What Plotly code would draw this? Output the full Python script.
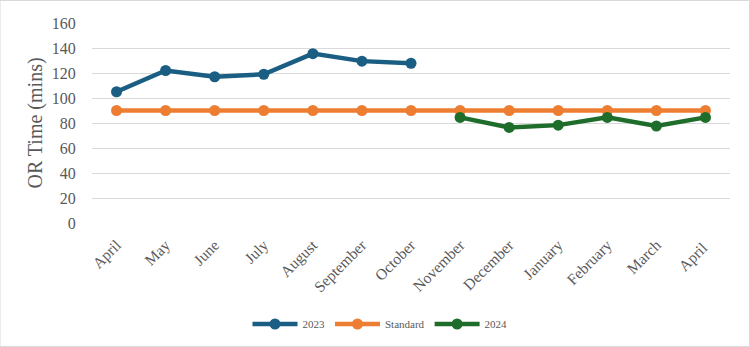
import plotly.graph_objects as go

months = ["April", "May", "June", "July", "August", "September", "October",
          "November", "December", "January", "February", "March", "April "]
y2023 = [105, 122, 117, 119, 135.5, 129.5, 127.8, None, None, None, None, None, None]
standard = [90, 90, 90, 90, 90, 90, 90, 90, 90, 90, 90, 90, 90]
y2024 = [None, None, None, None, None, None, None, 84.5, 76.5, 78.3, 84.5, 77.6, 84.5]
yticks = [0, 20, 40, 60, 80, 100, 120, 140, 160]

c2023 = "#1b5e83"
cstd = "#ed7d31"
c2024 = "#1e6d2b"

fig = go.Figure()
for name, vals, col in [("2023", y2023, c2023), ("Standard", standard, cstd), ("2024", y2024, c2024)]:
    fig.add_trace(go.Scatter(x=months, y=vals, name=name, mode="lines+markers",
                             line=dict(color=col, width=4.5),
                             marker=dict(color=col, size=11),
                             connectgaps=False))

font = "Liberation Serif, Times New Roman, serif"
fig.update_layout(
    width=750, height=347,
    margin=dict(l=92, r=20, t=23, b=124, autoexpand=False),
    paper_bgcolor="white", plot_bgcolor="white",
    font=dict(family=font, color="#595959"),
    showlegend=True,
    legend=dict(orientation="h", x=(380 - 92) / 638, xanchor="center",
                y=-0.505, yanchor="middle", font=dict(size=11, color="#595959"),
                itemwidth=45, tracegroupgap=0),
    xaxis=dict(type="category", range=[-0.5, 12.5], tickangle=-45, automargin=False,
               tickfont=dict(size=15.5, family=font, color="#595959"),
               showgrid=False, showline=False, zeroline=False,
               ticks="outside", ticklen=6, tickcolor="rgba(0,0,0,0)"),
    yaxis=dict(range=[0, 160], tickvals=yticks, showgrid=True, gridcolor="#d9d9d9",
               gridwidth=1.3, zeroline=False, automargin=False,
               ticks="outside", ticklen=12, tickcolor="rgba(0,0,0,0)",
               tickfont=dict(size=16, family=font, color="#595959"),
               title=dict(text="OR Time (mins)", font=dict(size=20, family=font, color="#595959"),
                          standoff=3)),
)
fig.add_shape(type="rect", xref="paper", yref="paper", x0=-92/638, x1=1+19.5/638,
              y0=-124/200 + 0.5/200, y1=1+22.5/200, line=dict(color="#d9d9d9", width=1))
fig.write_html("out.html")
